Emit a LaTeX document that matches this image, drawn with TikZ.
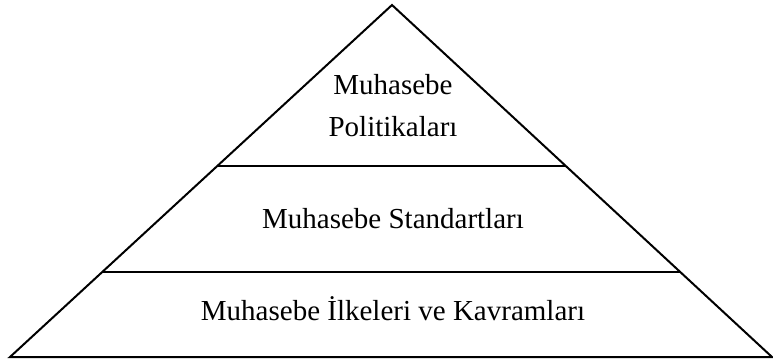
\documentclass[tikz,border=0pt]{standalone}
\usepackage{fontspec}
\setmainfont{Liberation Serif}
\begin{document}
\begin{tikzpicture}[x=1pt,y=-1pt,line width=2pt,
    level/.style={font=\fontsize{29}{42}\selectfont,align=center,inner sep=0pt}]
      \useasboundingbox (0,0) rectangle (773,362);
      \draw
        (392,5) coordinate (top)
        (10,357) coordinate (bl)
        (772,357) coordinate (br)
        (217.3,166) coordinate (l1)
        (565.8,166) coordinate (r1)
        (102.2,272) coordinate (l2)
        (680.2,272) coordinate (r2);
      \draw (bl) -- (top) -- (br) -- cycle;
      \begin{scope}[-]
        \draw (l1) to (r1);
        \draw (l2) to (r2);
      \end{scope}
      \node[level] (policy) at (393,106) {Muhasebe\\Politikaları};
      \node[level,anchor=base] (standard) at (393,228) {Muhasebe Standartları};
      \node[level,anchor=base] (principle) at (393,320) {Muhasebe İlkeleri ve Kavramları};
    \end{tikzpicture}
\end{document}
